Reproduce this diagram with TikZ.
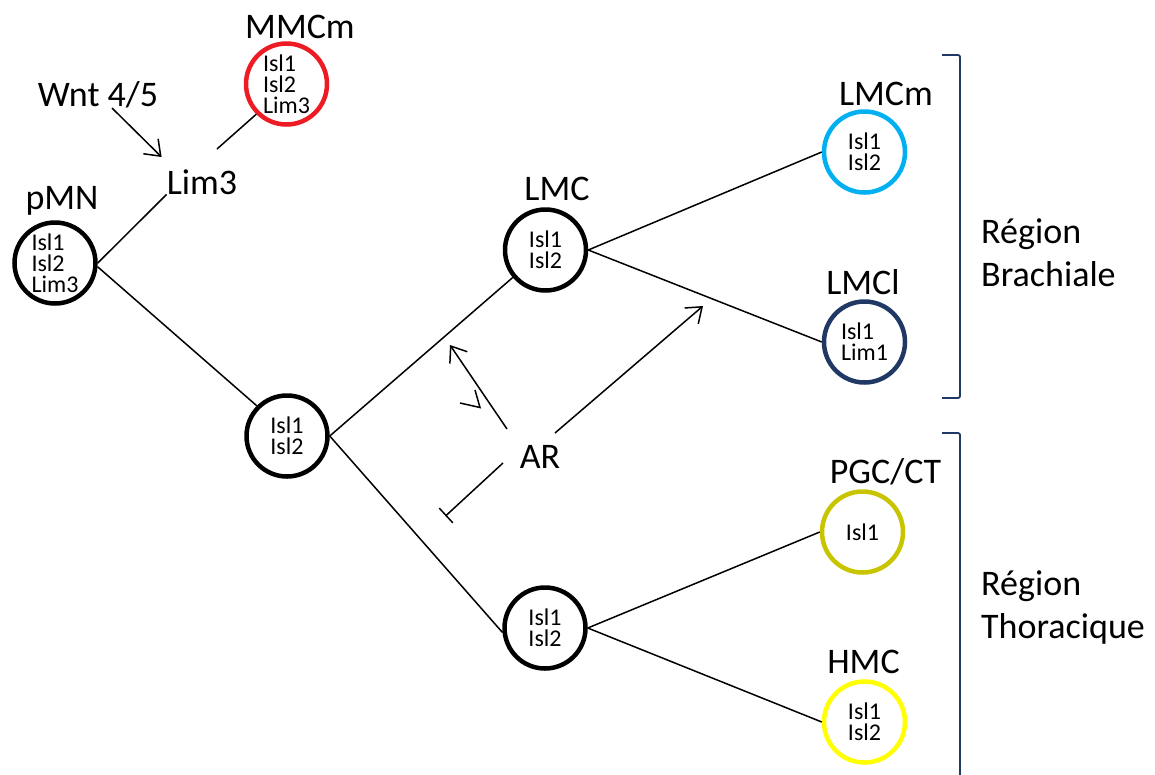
\documentclass[tikz,border=0pt]{standalone}
\usepackage{fontspec}
\setmainfont{Carlito}
\usetikzlibrary{arrows.meta,calc}
\definecolor{mred}{RGB}{237,28,36}
\definecolor{lblue}{RGB}{0,176,240}
\definecolor{navy}{RGB}{31,56,100}
\definecolor{olivey}{RGB}{200,196,0}
\definecolor{yel}{RGB}{255,255,0}
\begin{document}
\begin{tikzpicture}[x=1pt,y=-1pt,
  cell/.style={circle, draw, line width=4.5pt, minimum size=81pt, inner sep=0pt, align=left, font=\fontsize{24}{21}\selectfont},
  lbl/.style={anchor=base, font=\fontsize{36}{43}\selectfont, inner sep=0pt},
  link/.style={line width=1.5pt},
  act/.style={line width=1.5pt, -{Straight Barb[length=14pt,width=21pt]}},
  inh/.style={line width=1.5pt, -{Bar[width=20pt]}},
  brk/.style={navy, line width=1.8pt, rounded corners=2pt}]
\useasboundingbox (0,0) rectangle (1155,774);

% cells
\node[cell] (pmn) at (55,263) {Isl1\\Isl2\\Lim3};
\node[cell, draw=mred] (mmcm) at (286.5,84) {Isl1\\Isl2\\Lim3};
\node[cell] (mid) at (287,436) {Isl1\\Isl2};
\node[cell] (lmc) at (545.5,250) {Isl1\\Isl2};
\node[cell] (low) at (545,628) {Isl1\\Isl2};
\node[cell, draw=lblue] (lmcm) at (864.5,152) {Isl1\\Isl2};
\node[cell, draw=navy] (lmcl) at (864.5,342) {Isl1\\Lim1};
\node[cell, draw=olivey] (pgc) at (862.5,532) {Isl1};
\node[cell, draw=yel] (hmc) at (864.5,722) {Isl1\\Isl2};

% labels
\node[lbl] (lmmcm) at (300,38) {MMCm};
\node[lbl] (wnt) at (98,106) {Wnt 4/5};
\node[lbl] (lim3) at (202,194) {Lim3};
\node[lbl] (lpmn) at (62,209) {pMN};
\node[lbl] (llmc) at (557,200) {LMC};
\node[lbl] (llmcm) at (886,105) {LMCm};
\node[lbl] (llmcl) at (863,294) {LMCl};
\node[lbl] (lpgc) at (885.5,483) {PGC/CT};
\node[lbl] (lhmc) at (863.5,673) {HMC};
\node[lbl] (ar) at (540,468) {AR};
\node[lbl, anchor=base west, align=left] (brach) at (981,286) {Région\\Brachiale};
\node[lbl, anchor=base west, align=left] (thor) at (981,638) {Région\\Thoracique};

% free ends
\coordinate (lim3ne) at (217,149);
\coordinate (arleft) at (450,345);
\coordinate (arright) at (703,306);
\coordinate (arbar) at (445.5,516);

% connectors
\draw[link] (pmn.east) -- (lim3.south west);
\draw[link] (lim3ne) -- (mmcm.225);
\draw[act] ($(wnt.base)+(14,2)$) -- ($(lim3.north west)+(-5,-12)$);
\draw[link] (pmn.-5) -- (mid.135);
\draw[link] (mid.east) -- (lmc.220);
\draw[link] (mid.east) -- (low.186);
\draw[link] (lmc.east) -- (lmcm.west);
\draw[link] (lmc.east) -- (lmcl.west);
\draw[link] (low.east) -- (pgc.west);
\draw[link] (low.east) -- (hmc.west);

% AR effects
\draw[act] ($(ar.base)+(-33,-39)$) -- (arleft);
\draw[act] ($(ar.base)+(15,-35)$) -- (arright);
\draw[inh] ($(ar.base)+(-37,-5)$) -- (arbar);
\draw[link] (460,403) -- (480,407.5) -- (475,390);

% brackets
\draw[brk] (942,55) -- (960,55) -- (960,398) -- (942,398);
\draw[brk] (942,433) -- (960,433) -- (960,776);
\end{tikzpicture}
\end{document}
